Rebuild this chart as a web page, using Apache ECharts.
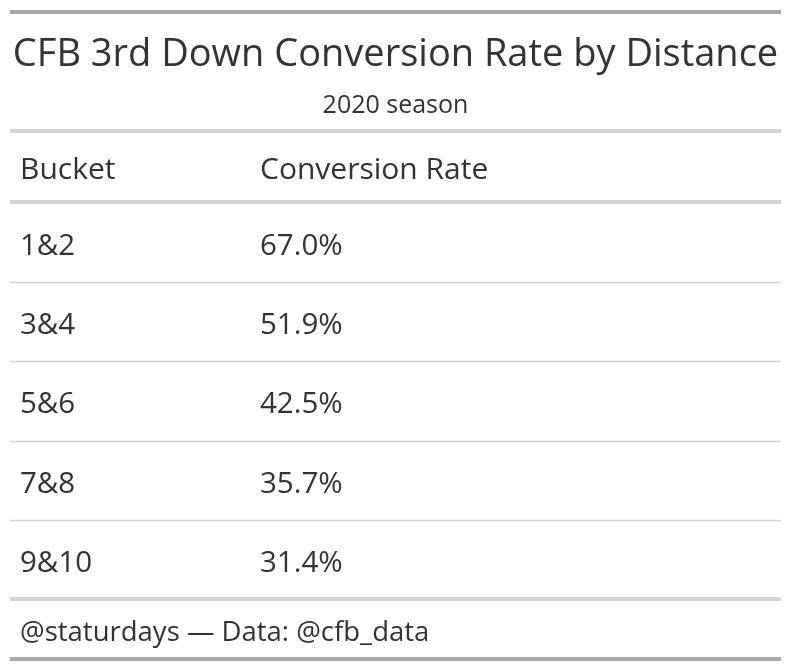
<!DOCTYPE html>
<html>
  <head>
    <meta charset="utf-8" />
    <title>CFB 3rd Down Conversion Rate by Distance</title>
    <script src="https://cdn.jsdelivr.net/npm/echarts@6/dist/echarts.min.js"></script>
    <style>
      html, body { margin: 0; padding: 0; background: #fff; }
      #main { width: 791px; height: 671px; }
    </style>
  </head>
  <body>
    <div id="main"></div>
    <script type="text/javascript">
      // table data
      var columns = ["Bucket", "Conversion Rate"];
      var buckets = ["1&2", "3&4", "5&6", "7&8", "9&10"];
      var rates = [67.0, 51.9, 42.5, 35.7, 31.4];

      var font = "'Open Sans', 'Noto Sans', sans-serif";
      var ink = "#333333";
      var col2 = 250; // offset of 2nd column from table left

      var myChart = echarts.init(document.getElementById("main"));

      var option = {
        backgroundColor: "#ffffff",
        animation: false,
        title: {
          text: "CFB 3rd Down Conversion Rate by Distance",
          subtext: "2020 season",
          left: "center",
          top: 31,
          itemGap: 19,
          textStyle: { fontFamily: font, fontSize: 38, fontWeight: "normal", color: ink },
          subtextStyle: { fontFamily: font, fontSize: 25, color: ink },
        },
        grid: { left: 10, right: 10, top: 203, bottom: 72 },
        xAxis: { type: "value", min: 0, max: 1, show: false },
        yAxis: {
          type: "category",
          data: buckets,
          inverse: true,
          show: false,
        },
        graphic: [
          { type: "rect", shape: { x: 10, y: 10, width: 771, height: 4 }, style: { fill: "#a8a8a8" } },
          { type: "rect", shape: { x: 10, y: 129, width: 771, height: 4 }, style: { fill: "#d3d3d3" } },
          { type: "rect", shape: { x: 10, y: 200, width: 771, height: 4 }, style: { fill: "#d3d3d3" } },
          { type: "rect", shape: { x: 10, y: 597, width: 771, height: 4 }, style: { fill: "#d3d3d3" } },
          { type: "rect", shape: { x: 10, y: 657, width: 771, height: 4 }, style: { fill: "#a8a8a8" } },
          {
            type: "text", left: 20, top: 155,
            style: { text: columns[0], font: "30px " + font, fill: ink },
          },
          {
            type: "text", left: 10 + col2, top: 155,
            style: { text: columns[1], font: "30px " + font, fill: ink },
          },
          {
            type: "text", left: 20, top: 619,
            style: { text: "@staturdays \u2014 Data: @cfb_data", font: "27.5px " + font, fill: ink },
          },
        ],
        series: [
          {
            type: "custom",
            data: buckets.map(function (b, i) { return [0, i]; }),
            encode: { x: 0, y: 1 },
            renderItem: function (params, api) {
              var i = params.dataIndex;
              var c = api.coord([0, api.value(1)]);
              var h = api.size([0, 1])[1];
              var cs = params.coordSys;
              var children = [
                {
                  type: "text",
                  style: {
                    x: cs.x + 10, y: c[1] + 4, text: buckets[i],
                    font: "29.5px " + font, fill: ink, verticalAlign: "middle",
                  },
                },
                {
                  type: "text",
                  style: {
                    x: cs.x + col2, y: c[1] + 4, text: rates[i].toFixed(1) + "%",
                    font: "29.5px " + font, fill: ink, verticalAlign: "middle",
                  },
                },
              ];
              if (i < buckets.length - 1) {
                var yb = Math.round(c[1] + h / 2) + 0.5;
                children.push({
                  type: "line",
                  shape: { x1: cs.x, y1: yb, x2: cs.x + cs.width, y2: yb },
                  style: { stroke: "#d3d3d3", lineWidth: 1.5 },
                });
              }
              return { type: "group", children: children };
            },
          },
        ],
      };
      myChart.setOption(option);
    </script>
  </body>
</html>
